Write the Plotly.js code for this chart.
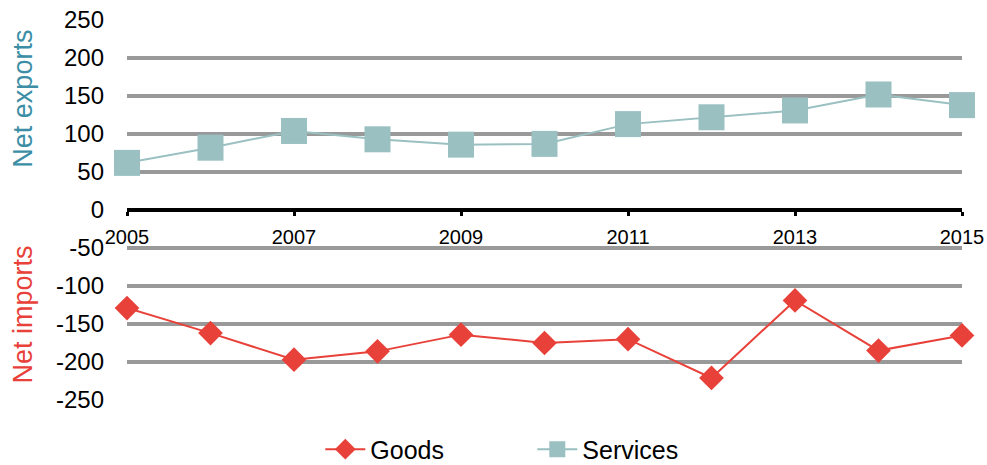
<!DOCTYPE html>
<html><head><meta charset="utf-8">
<script src="https://cdn.plot.ly/plotly-3.0.1.min.js"></script>
<style>html,body{margin:0;padding:0;background:#fff}#c{width:987px;height:465px}</style>
</head><body><div id="c"></div>
<script>
const years = [2005,2006,2007,2008,2009,2010,2011,2012,2013,2014,2015];
const goods = [-129,-162,-197,-186,-164,-175,-170,-221,-119,-185,-165];
const services = [62,82,104,93,86,87,113,122,131,152,138];
const yTicks = [-250,-200,-150,-100,-50,0,50,100,150,200,250];
const xTicks = [2005,2007,2009,2011,2013,2015];

const goodsColor = '#e8413a';
const servColor = '#9ac0c2';

const traces = [
  {x: years, y: goods, name: 'Goods', type: 'scatter', mode: 'lines+markers',
   line: {color: goodsColor, width: 2}, marker: {symbol: 'diamond', size: 19, color: goodsColor}, cliponaxis: false},
  {x: years, y: services, name: 'Services', type: 'scatter', mode: 'lines+markers',
   line: {color: servColor, width: 2}, marker: {symbol: 'square', size: 26, color: servColor}, cliponaxis: false}
];

const layout = {
  width: 987, height: 465,
  margin: {l: 127, r: 25, t: 20, b: 65, autoexpand: false},
  paper_bgcolor: '#fff', plot_bgcolor: '#fff',
  font: {family: 'Liberation Sans, Arial, sans-serif', size: 20, color: '#000'},
  showlegend: true,
  legend: {orientation: 'h', x: 0.2315, xanchor: 'left', xref: 'paper', y: -0.13, yanchor: 'middle',
           font: {size: 25}, itemwidth: 40, entrywidth: 157},
  xaxis: {range: [2005, 2015], tickvals: xTicks, ticktext: xTicks.map(String),
          anchor: 'free', position: 0.5, showgrid: false, zeroline: false,
          showline: true, linecolor: '#000', linewidth: 4,
          ticks: 'outside', ticklen: 4, tickwidth: 3, tickcolor: '#000',
          ticklabelstandoff: 4, tickfont: {size: 20}},
  yaxis: {range: [-250, 250], tickvals: yTicks, ticktext: yTicks.map(String),
          showgrid: true, gridcolor: '#999999', gridwidth: 3.5,
          zeroline: false, showline: false, ticks: '', ticklabelstandoff: 22,
          tickfont: {size: 24}},
  annotations: [
    {text: 'Net exports', xref: 'paper', yref: 'y', x: -0.125, y: 146, textangle: -90,
     showarrow: false, font: {size: 27, color: '#3b8ea5'}, xanchor: 'center', yanchor: 'middle'},
    {text: 'Net imports', xref: 'paper', yref: 'y', x: -0.125, y: -138, textangle: -90,
     showarrow: false, font: {size: 27, color: goodsColor}, xanchor: 'center', yanchor: 'middle'}
  ]
};
Plotly.newPlot('c', traces, layout, {displayModeBar: false, staticPlot: true});
</script></body></html>
